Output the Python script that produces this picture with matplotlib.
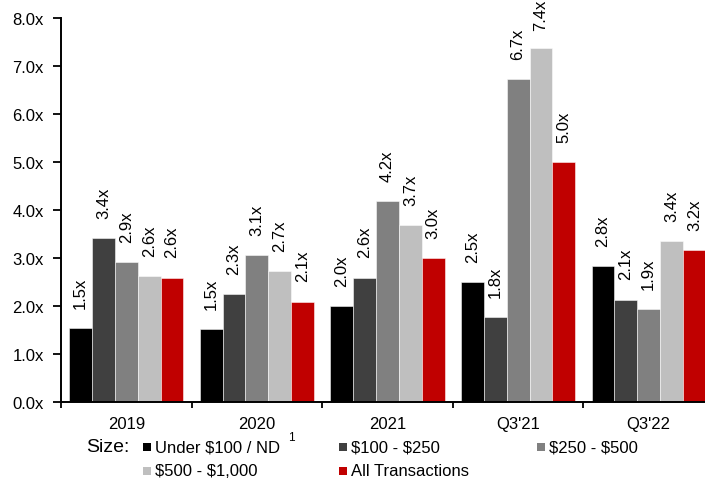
import numpy as np
import matplotlib.pyplot as plt
from matplotlib.patches import Rectangle

plt.rcParams['font.family'] = ['Liberation Sans', 'DejaVu Sans']

# EV / revenue multiples by deal size
periods = ["2019", "2020", "2021", "Q3'21", "Q3'22"]
series_names = ["Under $100 / ND", "$100 - $250", "$250 - $500", "$500 - $1,000", "All Transactions"]
under_100 = [1.54, 1.53, 2.01, 2.50, 2.83]
from_100_250 = [3.42, 2.26, 2.60, 1.77, 2.14]
from_250_500 = [2.93, 3.06, 4.20, 6.73, 1.94]
from_500_1000 = [2.63, 2.74, 3.70, 7.39, 3.36]
all_deals = [2.60, 2.10, 3.00, 5.00, 3.17]
colors = ["#000000", "#404040", "#808080", "#bfbfbf", "#c00000"]

values = [under_100, from_100_250, from_250_500, from_500_1000, all_deals]

W, H = 705, 481
fig = plt.figure(figsize=(W / 100, H / 100), dpi=100)
ax = fig.add_axes([61 / W, 77.7 / H, 653 / W, 384 / H])

x = np.arange(len(periods))
bw = 0.175
labels = []
for i, (vals, col) in enumerate(zip(values, colors)):
    xs = x + (i - 2) * bw
    ax.bar(xs, vals, width=bw, color=col, edgecolor=(1, 1, 1, 0.6), linewidth=0.6, zorder=2)
    for xi, v in zip(xs, vals):
        t = ax.annotate(f"{v:.1f}x", xy=(xi, v), xytext=(0, 14.5), textcoords='offset points',
                        rotation=90, ha='center', va='bottom', fontsize=12,
                        annotation_clip=False)
        labels.append(t)

ax.set_xlim(-0.5, len(periods) - 0.5)
ax.set_ylim(0, 8)
ax.set_yticks(np.arange(0, 8.1, 1))
ax.set_yticklabels([f"{v:.1f}x" for v in np.arange(0, 8.1, 1)])
ax.set_xticks(x)
ax.set_xticklabels(periods)
ax.set_xticks(np.arange(-0.5, len(periods), 1), minor=True)

ax.tick_params(axis='y', direction='out', length=6, width=1.3, pad=6.5, labelsize=12)
ax.tick_params(axis='x', which='major', length=0, pad=10, labelsize=12)
ax.tick_params(axis='x', which='minor', direction='out', length=4, width=1.3)

for s in ['top', 'right']:
    ax.spines[s].set_visible(False)
for s in ['left', 'bottom']:
    ax.spines[s].set_linewidth(1.4)

# keep rotated labels inside the figure
fig.canvas.draw()
renderer = fig.canvas.get_renderer()
for t in labels:
    bb = t.get_window_extent(renderer)
    if bb.y1 > H:
        dx, dy = t.xyann
        t.xyann = (dx, dy - (bb.y1 - H) * 72 / 100)

# legend row under the axis
fig.text(86 / W, 1 - 452 / H, "Size:", fontsize=14, va='baseline', ha='left')
legend_pos = [(143, 452), (339, 452), (537, 452), (143, 476), (339, 476)]
for name, col, (lx, ly) in zip(series_names, colors, legend_pos):
    fig.add_artist(Rectangle((lx / W, 1 - ly / H), 8 / W, 8 / H,
                             transform=fig.transFigure, facecolor=col, edgecolor='none'))
    fig.text((lx + 12) / W, 1 - ly / H, name, fontsize=12, va='baseline', ha='left',
             parse_math=False)
fig.text(288 / W, 1 - 441 / H, "1", fontsize=8.5, va='baseline', ha='left')

fig.savefig("out.png", dpi=100)
